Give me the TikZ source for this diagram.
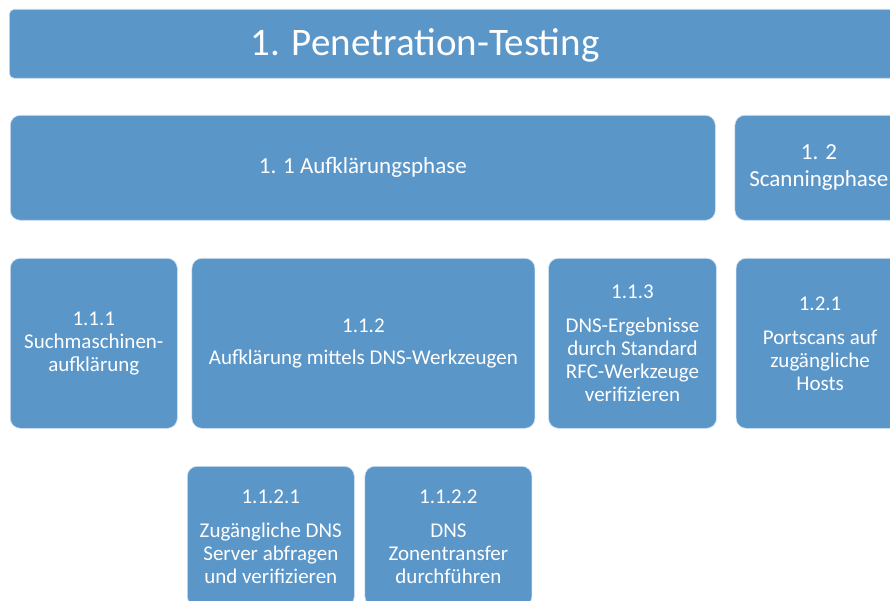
\documentclass[tikz,border=0pt]{standalone}
\usepackage{fontspec}
\setmainfont{Carlito}
\usetikzlibrary{positioning}
\definecolor{boxblue}{RGB}{91,150,201}

\begin{document}
\begin{tikzpicture}[x=1pt,y=-1pt,node distance=14pt,
       every node/.style={text=white,align=center,font=\fontsize{21}{23}\selectfont}]
       \tikzstyle{phase}=[rectangle,rounded corners=10pt,fill=boxblue,draw=white!70!boxblue,line width=0.6pt,inner sep=0pt]
       \tikzstyle{bigphase}=[phase,minimum height=105pt,font=\fontsize{23}{27}\selectfont]
       \tikzstyle{step3}=[phase,minimum width=168pt,minimum height=170pt]
       \tikzstyle{step4}=[phase,minimum width=167pt,minimum height=140pt]

       \path[use as bounding box] (0,0) rectangle (890,601);
       \fill[white] (0,0) rectangle (890,601);
       \clip (0,0) rectangle (890,601);

       \node[phase,rounded corners=5pt,minimum width=991pt,minimum height=69pt,anchor=north west] (test) at (9,9) {};
       \node[font=\fontsize{39}{45}\selectfont] (testtitle) at (425,45.5) {1. Penetration-Testing};

       \node[bigphase,minimum width=705pt,anchor=north west] (l11) at (10,115) {1. 1 Aufklärungsphase};
       \node[bigphase,minimum width=168pt] (l12) [right=19pt of l11] {1. 2\\Scanningphase};

       \node[step3,minimum width=167pt,anchor=north west] (l111) at (10,258) {1.1.1\\Suchmaschinen-\\aufklärung};
       \node[step3,minimum width=343pt] (l112) [right=of l111] {1.1.2\\[9pt]Aufklärung mittels DNS-Werkzeugen};
       \node[step3] (l113) [right=13pt of l112] {1.1.3\\[11pt]DNS-Ergebnisse\\durch Standard\\RFC-Werkzeuge\\verifizieren};
       \node[step3] (l121) [right=19pt of l113] {1.2.1\\[11pt]Portscans auf\\zugängliche\\Hosts};

       \node[step4,anchor=north west] (l1121) at (187,466) {1.1.2.1\\[11pt]Zugängliche DNS\\Server abfragen\\und verifizieren};
       \node[step4] (l1122) [right=10pt of l1121] {1.1.2.2\\[11pt]DNS\\Zonentransfer\\durchführen};
     \end{tikzpicture}
\end{document}
